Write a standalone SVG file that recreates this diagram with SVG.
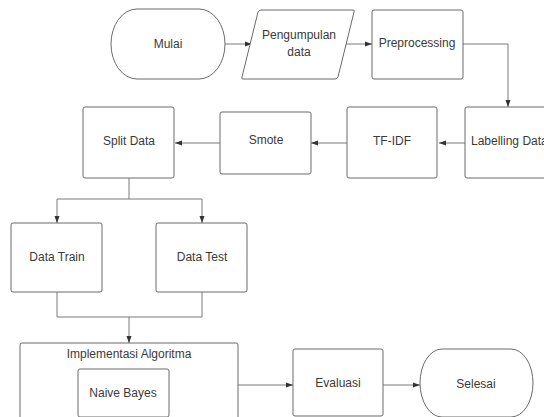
<svg xmlns="http://www.w3.org/2000/svg" width="544" height="417" viewBox="0 0 544 417">
<defs>
<style>
.n{fill:#fff;stroke:#6b6b6b;stroke-width:1}
.t{font-family:"Liberation Sans",Arial,sans-serif;font-size:12px;fill:#3a3a3a;text-anchor:middle;dominant-baseline:central}
.c{fill:none;stroke:#7a7a7a;stroke-width:1}
</style>
<marker id="a" markerWidth="8" markerHeight="6" refX="7" refY="3" orient="auto" markerUnits="userSpaceOnUse">
<path d="M0,0.5 L7,3 L0,5.5 Z" fill="#333"/>
</marker>
</defs>
<rect width="544" height="417" fill="#fff"/>
<g id="connectors">
<path class="c" d="M225,44 H252" marker-end="url(#a)"/>
<path class="c" d="M346,44 H372" marker-end="url(#a)"/>
<path class="c" d="M463,44 H508 V107" marker-end="url(#a)"/>
<path class="c" d="M465,143 H439" marker-end="url(#a)"/>
<path class="c" d="M347,143 H311" marker-end="url(#a)"/>
<path class="c" d="M220,143 H175" marker-end="url(#a)"/>
<path class="c" d="M129,178 V199 H57 V223" marker-end="url(#a)"/>
<path class="c" d="M129,199 H202 V223" marker-end="url(#a)"/>
<path class="c" d="M57,292 V317 H202 V292"/>
<path class="c" d="M129,317 V343" marker-end="url(#a)"/>
<path class="c" d="M238,385 H293" marker-end="url(#a)"/>
<path class="c" d="M383,385 H420" marker-end="url(#a)"/>
</g>
<g id="mulai"><rect class="n" x="111" y="9" width="114" height="70" rx="26" ry="35"/><text class="t" x="168" y="44">Mulai</text></g>
<g id="pengumpulan"><path class="n" d="M261,10 H353 Q355,10 354,12 L338,77 Q337,79 335,79 H243 Q241,79 242,77 L258,12 Q259,10 261,10 Z"/><text class="t" x="299" y="35">Pengumpulan</text><text class="t" x="299" y="52">data</text></g>
<g id="preprocessing"><rect class="n" x="372" y="10" width="91" height="69" rx="2"/><text class="t" x="417" y="43">Preprocessing</text></g>
<g id="labelling"><rect class="n" x="465" y="107" width="90" height="71" rx="2"/><text class="t" x="471" y="141" style="text-anchor:start">Labelling Data</text></g>
<g id="tfidf"><rect class="n" x="347" y="107" width="90" height="71" rx="2"/><text class="t" x="392" y="141">TF-IDF</text></g>
<g id="smote"><rect class="n" x="220" y="112" width="91" height="62" rx="2"/><text class="t" x="266" y="140">Smote</text></g>
<g id="split"><rect class="n" x="83" y="107" width="91" height="71" rx="2"/><text class="t" x="129" y="141">Split Data</text></g>
<g id="train"><rect class="n" x="11" y="223" width="91" height="69" rx="2"/><text class="t" x="57" y="257">Data Train</text></g>
<g id="test"><rect class="n" x="156" y="223" width="91" height="69" rx="2"/><text class="t" x="202" y="257">Data Test</text></g>
<g id="implementasi"><rect class="n" x="20" y="343" width="218" height="80" rx="2"/><text class="t" x="129" y="354">Implementasi Algoritma</text></g>
<g id="naive"><rect class="n" x="78" y="369" width="91" height="48" rx="2"/><text class="t" x="123" y="393">Naive Bayes</text></g>
<g id="evaluasi"><rect class="n" x="293" y="349" width="90" height="67" rx="2"/><text class="t" x="338" y="383">Evaluasi</text></g>
<g id="selesai"><rect class="n" x="420" y="349" width="113" height="68" rx="22" ry="34"/><text class="t" x="476" y="384">Selesai</text></g>
</svg>
